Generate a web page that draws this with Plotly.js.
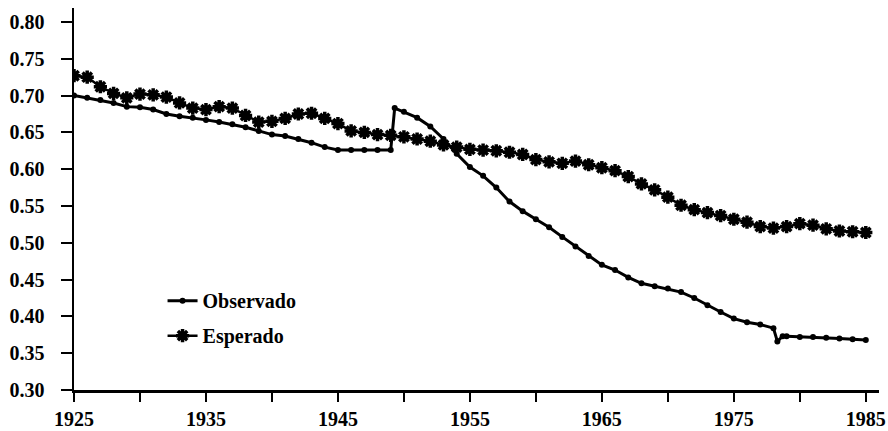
<!DOCTYPE html>
<html>
<head>
<meta charset="utf-8">
<script src="https://cdn.plot.ly/plotly-3.0.1.min.js"></script>
<style>html,body{margin:0;padding:0;background:#fff;}#chart{width:888px;height:431px;}</style>
</head>
<body>
<div id="chart"></div>
<script>
// Observado (observed) series
const obsYears = [1925,1926,1927,1928,1929,1930,1931,1932,1933,1934,1935,1936,1937,1938,1939,1940,1941,1942,1943,1944,1945,1946,1947,1948,1949,1949.3,1950,1951,1952,1953,1954,1955,1956,1957,1958,1959,1960,1961,1962,1963,1964,1965,1966,1967,1968,1969,1970,1971,1972,1973,1974,1975,1976,1977,1978,1978.3,1978.7,1979,1980,1981,1982,1983,1984,1985];
const obsValues = [0.700,0.697,0.694,0.690,0.685,0.684,0.681,0.675,0.672,0.670,0.667,0.664,0.661,0.657,0.652,0.647,0.645,0.641,0.636,0.630,0.626,0.626,0.626,0.626,0.626,0.683,0.678,0.670,0.658,0.641,0.621,0.603,0.591,0.575,0.556,0.543,0.532,0.521,0.508,0.495,0.482,0.470,0.463,0.453,0.445,0.441,0.438,0.433,0.425,0.415,0.406,0.397,0.392,0.389,0.384,0.366,0.373,0.373,0.372,0.372,0.371,0.370,0.369,0.368];

// Esperado (expected) series
const expYears = [1925,1926,1927,1928,1929,1930,1931,1932,1933,1934,1935,1936,1937,1938,1939,1940,1941,1942,1943,1944,1945,1946,1947,1948,1949,1950,1951,1952,1953,1954,1955,1956,1957,1958,1959,1960,1961,1962,1963,1964,1965,1966,1967,1968,1969,1970,1971,1972,1973,1974,1975,1976,1977,1978,1979,1980,1981,1982,1983,1984,1985];
const expValues = [0.727,0.725,0.712,0.703,0.697,0.702,0.701,0.698,0.690,0.683,0.681,0.685,0.683,0.673,0.664,0.665,0.669,0.675,0.676,0.669,0.662,0.652,0.650,0.647,0.646,0.644,0.641,0.638,0.633,0.630,0.627,0.626,0.625,0.623,0.620,0.613,0.610,0.608,0.611,0.606,0.602,0.598,0.590,0.580,0.572,0.562,0.551,0.545,0.541,0.537,0.532,0.528,0.522,0.520,0.522,0.526,0.524,0.519,0.516,0.515,0.514];

// Axis ticks
const xTickVals = [1925,1930,1935,1940,1945,1950,1955,1960,1965,1970,1975,1980,1985];
const xTickText = ['1925','','1935','','1945','','1955','','1965','','1975','','1985'];
const yTickVals = [0.30,0.35,0.40,0.45,0.50,0.55,0.60,0.65,0.70,0.75,0.80];
const yTickText = ['0.30','0.35','0.40','0.45','0.50','0.55','0.60','0.65','0.70','0.75','0.80'];

const font = {family: '"Liberation Serif", "Times New Roman", serif', size: 20, color: '#000', weight: 'bold'};

const traces = [
  {
    x: obsYears, y: obsValues, name: 'Observado', type: 'scatter', mode: 'lines+markers',
    line: {color: '#000', width: 3},
    marker: {symbol: 'circle', size: 6, color: '#000'},
    legendgroup: 'a'
  },
  {
    x: expYears, y: expValues, name: 'Esperado', type: 'scatter', mode: 'lines+markers',
    line: {color: '#000', width: 2.5},
    marker: {symbol: 'asterisk-open', size: 11, color: '#000', line: {color: '#000', width: 3.5}},
    legendgroup: 'b'
  }
];

const layout = {
  width: 888, height: 431,
  margin: {l: 74, r: 9, t: 8, b: 41},
  paper_bgcolor: '#fff', plot_bgcolor: '#fff',
  font: font,
  showlegend: true,
  legend: {
    x: 0.11, y: 0.285, xanchor: 'left', yanchor: 'top',
    bgcolor: 'rgba(0,0,0,0)', font: font,
    traceorder: 'grouped', tracegroupgap: 6,
    itemwidth: 30
  },
  xaxis: {
    range: [1925, 1986], tickvals: xTickVals, ticktext: xTickText,
    ticks: 'outside', ticklen: 9, tickwidth: 2, tickcolor: '#000',
    showline: true, linewidth: 2.5, linecolor: '#000',
    showgrid: false, zeroline: false, ticklabelstandoff: 0,
    tickfont: font
  },
  yaxis: {
    range: [0.30, 0.819], tickvals: yTickVals, ticktext: yTickText,
    ticks: 'outside', ticklen: 11, tickwidth: 2, tickcolor: '#000',
    showline: true, linewidth: 2.5, linecolor: '#000',
    showgrid: false, zeroline: false, ticklabelstandoff: 12,
    tickfont: font
  }
};

Plotly.newPlot('chart', traces, layout, {displayModeBar: false, staticPlot: true});
</script>
</body>
</html>
